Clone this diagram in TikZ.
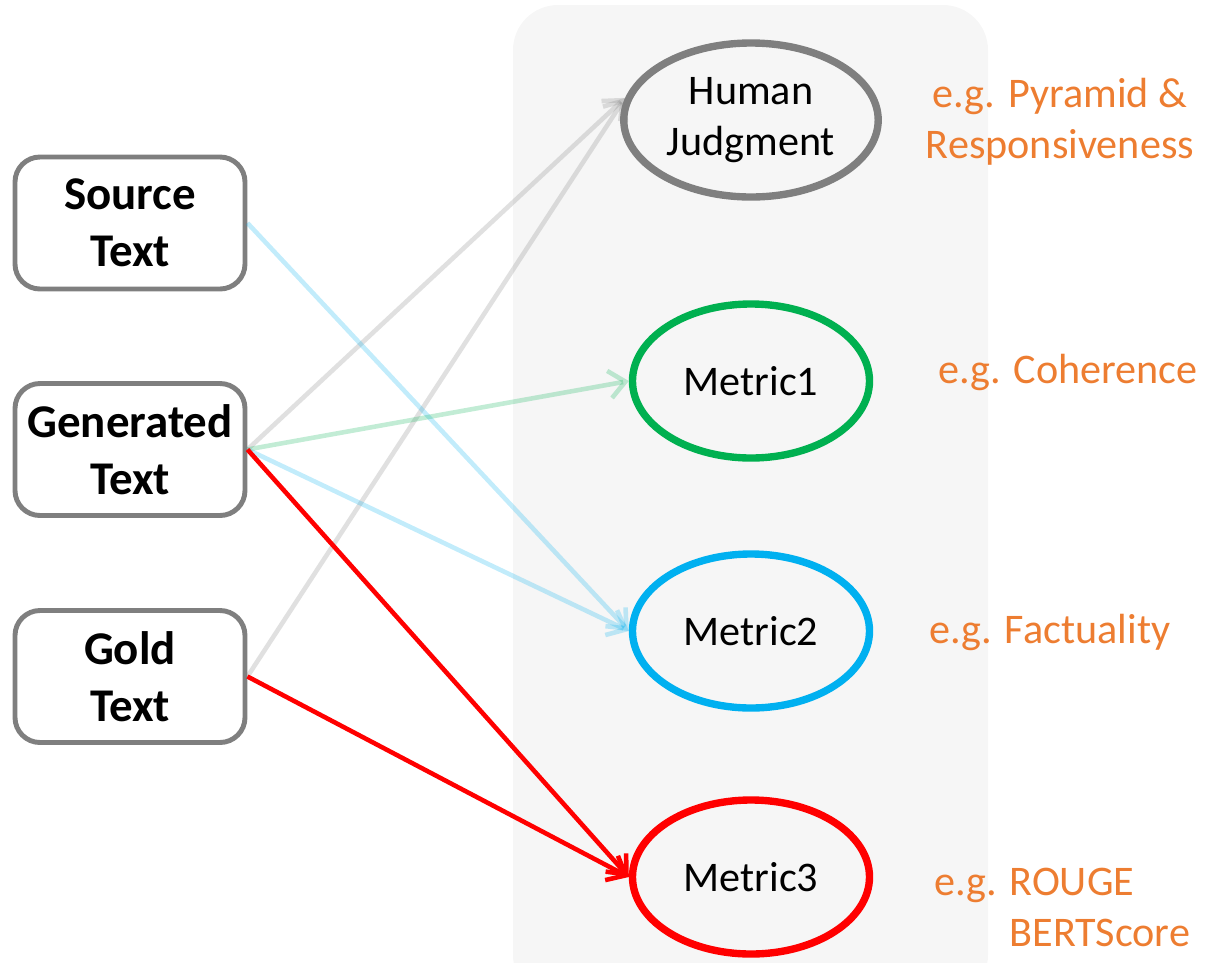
\documentclass[tikz,border=0pt]{standalone}
\usepackage{fontspec}
\setmainfont{Carlito}
\usepackage{tikz}
\usetikzlibrary{arrows.meta}
\usetikzlibrary{shapes.geometric}

\definecolor{boxgray}{HTML}{7F7F7F}
\definecolor{panelgray}{HTML}{F6F6F6}
\definecolor{metricgreen}{HTML}{00B050}
\definecolor{metricblue}{HTML}{00B0F0}
\definecolor{metricred}{HTML}{FF0000}
\definecolor{egorange}{HTML}{ED7D31}

\begin{document}
\begin{tikzpicture}
    \tikzstyle{textbox}=[
      rectangle,
      rounded corners=0.5cm,
      draw=boxgray,
      line width=2.8pt,
      fill=white,
      align=center,
      minimum width=4.6cm,
      minimum height=2.64cm,
      font=\fontsize{26.7}{32.5}\selectfont\bfseries,
    ]
    \tikzstyle{metric}=[
      ellipse,
      line width=4.2pt,
      align=center,
      minimum width=4.74cm,
      minimum height=3.08cm,
      font=\fontsize{24}{29}\selectfont,
    ]
    \tikzstyle{example}=[
      text=egorange,
      align=center,
      font=\fontsize{24}{29}\selectfont,
    ]
    \tikzstyle{dedge}=[line width=2.6pt,->,>={Straight Barb[length=0.32cm,width=0.55cm]}]
    \tikzstyle{faint}=[draw opacity=0.24]

    \useasboundingbox (0,0) rectangle (24.12,-19.24);

    \coordinate (inputAnchor) at (2.6,-8.99);
    \coordinate (metricAnchor) at (15.02,-2.44);

    % panel behind the metrics
    {
      \fill[panelgray, rounded corners=0.9cm] (10.26,-20) rectangle (19.76,-0.1);
    }

    % inputs
    {
      \node[textbox] (source) at ([xshift=0cm, yshift=4.53cm] inputAnchor) {Source\\Text};
      \node[textbox] (generated) at ([xshift=0cm, yshift=0cm] inputAnchor) {Generated\\Text};
      \node[textbox] (gold) at ([xshift=0cm, yshift=-4.54cm] inputAnchor) {Gold\\Text};
    }

    % metrics
    {
      \node[metric, draw=boxgray] (human) at ([xshift=0cm, yshift=0.04cm] metricAnchor) {Human\\Judgment};
      \node[metric, draw=metricgreen] (metric1) at ([xshift=0cm, yshift=-5.18cm] metricAnchor) {Metric1};
      \node[metric, draw=metricblue] (metric2) at ([xshift=0cm, yshift=-10.18cm] metricAnchor) {Metric2};
      \node[metric, draw=metricred] (metric3) at ([xshift=0cm, yshift=-15.1cm] metricAnchor) {Metric3};
    }

    % examples
    {
      \node[example] (human ex) at ([xshift=6.18cm, yshift=0cm] metricAnchor) {e.g. Pyramid \&\\Responsiveness};
      \node[example] (metric1 ex) at ([xshift=6.34cm, yshift=-5.0cm] metricAnchor) {e.g. Coherence};
      \node[example] (metric2 ex) at ([xshift=5.98cm, yshift=-10.2cm] metricAnchor) {e.g. Factuality};
      \node[example, anchor=west, align=left] (metric3 ex) at ([xshift=3.54cm, yshift=-15.78cm] metricAnchor) {e.g. ROUGE\\\phantom{e.g. }BERTScore};
    }

    % edges
    {
      \draw[dedge, faint, draw=boxgray] (generated.east)--(human.170);
      \draw[dedge, faint, draw=boxgray] (gold.east)--(human.170);
      \draw[dedge, faint, draw=metricblue] (source.east)--(metric2.west);
      \draw[dedge, faint, draw=metricgreen] (generated.east)--(metric1.west);
      \draw[dedge, faint, draw=metricblue] (generated.east)--(metric2.west);
      \draw[dedge, draw=metricred] (generated.east)--(metric3.west);
      \draw[dedge, draw=metricred] (gold.east)--(metric3.west);
    }
  \end{tikzpicture}
\end{document}
